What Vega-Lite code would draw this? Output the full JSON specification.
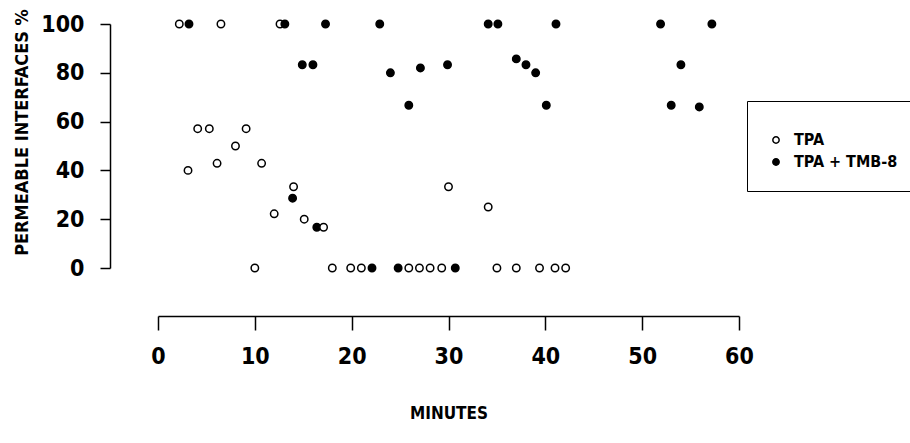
{
  "$schema": "https://vega.github.io/schema/vega-lite/v6.json",
  "autosize": "none",
  "width": 581,
  "height": 244,
  "padding": {"left": 158, "top": 24, "right": 171, "bottom": 175},
  "background": "white",
  "config": {
    "view": {"stroke": null},
    "font": "DejaVu Sans Condensed",
    "axis": {"grid": false, "domainColor": "black", "tickColor": "black", "labelColor": "black", "titleColor": "black", "domainWidth": 1.5, "tickWidth": 1.5, "labelFont": "DejaVu Sans Condensed", "titleFont": "DejaVu Sans Condensed", "labelFontWeight": "bold", "titleFontWeight": "bold"}
  },
  "data": {
    "values": [
      {"t": 2.2, "p": 100, "g": "TPA"},
      {"t": 6.5, "p": 100, "g": "TPA"},
      {"t": 12.6, "p": 100, "g": "TPA"},
      {"t": 3.1, "p": 40, "g": "TPA"},
      {"t": 4.1, "p": 57.1, "g": "TPA"},
      {"t": 5.3, "p": 57.1, "g": "TPA"},
      {"t": 6.1, "p": 42.9, "g": "TPA"},
      {"t": 8.0, "p": 50, "g": "TPA"},
      {"t": 9.1, "p": 57.1, "g": "TPA"},
      {"t": 10.7, "p": 42.9, "g": "TPA"},
      {"t": 10.0, "p": 0, "g": "TPA"},
      {"t": 12.0, "p": 22.2, "g": "TPA"},
      {"t": 14.0, "p": 33.3, "g": "TPA"},
      {"t": 15.1, "p": 20, "g": "TPA"},
      {"t": 18.0, "p": 0, "g": "TPA"},
      {"t": 19.9, "p": 0, "g": "TPA"},
      {"t": 21.0, "p": 0, "g": "TPA"},
      {"t": 25.9, "p": 0, "g": "TPA"},
      {"t": 27.0, "p": 0, "g": "TPA"},
      {"t": 28.1, "p": 0, "g": "TPA"},
      {"t": 29.3, "p": 0, "g": "TPA"},
      {"t": 30.0, "p": 33.3, "g": "TPA"},
      {"t": 34.1, "p": 25, "g": "TPA"},
      {"t": 35.0, "p": 0, "g": "TPA"},
      {"t": 37.0, "p": 0, "g": "TPA"},
      {"t": 39.4, "p": 0, "g": "TPA"},
      {"t": 41.0, "p": 0, "g": "TPA"},
      {"t": 42.1, "p": 0, "g": "TPA"},
      {"t": 3.2, "p": 100, "g": "TPA + TMB-8"},
      {"t": 13.1, "p": 100, "g": "TPA + TMB-8"},
      {"t": 17.3, "p": 100, "g": "TPA + TMB-8"},
      {"t": 22.9, "p": 100, "g": "TPA + TMB-8"},
      {"t": 34.1, "p": 100, "g": "TPA + TMB-8"},
      {"t": 35.1, "p": 100, "g": "TPA + TMB-8"},
      {"t": 41.1, "p": 100, "g": "TPA + TMB-8"},
      {"t": 51.9, "p": 100, "g": "TPA + TMB-8"},
      {"t": 57.2, "p": 100, "g": "TPA + TMB-8"},
      {"t": 14.9, "p": 83.3, "g": "TPA + TMB-8"},
      {"t": 16.0, "p": 83.3, "g": "TPA + TMB-8"},
      {"t": 24.0, "p": 80, "g": "TPA + TMB-8"},
      {"t": 25.9, "p": 66.7, "g": "TPA + TMB-8"},
      {"t": 27.1, "p": 82, "g": "TPA + TMB-8"},
      {"t": 29.9, "p": 83.3, "g": "TPA + TMB-8"},
      {"t": 13.9, "p": 28.6, "g": "TPA + TMB-8"},
      {"t": 16.4, "p": 16.7, "g": "TPA + TMB-8"},
      {"t": 22.1, "p": 0, "g": "TPA + TMB-8"},
      {"t": 24.8, "p": 0, "g": "TPA + TMB-8"},
      {"t": 30.7, "p": 0, "g": "TPA + TMB-8"},
      {"t": 37.0, "p": 85.7, "g": "TPA + TMB-8"},
      {"t": 38.0, "p": 83.3, "g": "TPA + TMB-8"},
      {"t": 39.0, "p": 80, "g": "TPA + TMB-8"},
      {"t": 40.1, "p": 66.7, "g": "TPA + TMB-8"},
      {"t": 54.0, "p": 83.3, "g": "TPA + TMB-8"},
      {"t": 53.0, "p": 66.7, "g": "TPA + TMB-8"},
      {"t": 55.9, "p": 66, "g": "TPA + TMB-8"},
      {"t": 17.1, "p": 16.7, "g": "TPA"}
    ]
  },
  "mark": {"type": "point", "filled": false, "stroke": "black", "strokeWidth": 1.5, "opacity": 1, "size": 55, "shape": "circle"},
  "encoding": {
    "x": {
      "field": "t", "type": "quantitative",
      "scale": {"domain": [0, 60], "nice": false, "zero": true},
      "axis": {"title": "MINUTES", "offset": 48, "values": [0, 10, 20, 30, 40, 50, 60], "tickSize": 14, "labelPadding": 15, "labelFontSize": 23, "titleFontSize": 17, "titleY": 97, "titleBaseline": "middle", "labelFlush": false}
    },
    "y": {
      "field": "p", "type": "quantitative",
      "scale": {"domain": [0, 100], "nice": false},
      "axis": {"title": "PERMEABLE INTERFACES %", "offset": 48, "values": [0, 20, 40, 60, 80, 100], "tickSize": 10, "labelPadding": 16, "labelFontSize": 23, "titleFontSize": 18, "titleX": -88, "titleY": 108, "titleAlign": "center", "titleBaseline": "middle", "titleAngle": -90}
    },
    "fill": {
      "field": "g", "type": "nominal",
      "scale": {"domain": ["TPA", "TPA + TMB-8"], "range": ["white", "black"]},
      "legend": {"title": " ", "titleFontSize": 2, "titlePadding": 8, "orient": "none", "legendX": 589, "legendY": 77, "strokeColor": "black", "padding": 21, "rowPadding": 6, "symbolSize": 40, "symbolStrokeColor": "black", "symbolStrokeWidth": 1.5, "symbolType": "circle", "labelFont": "DejaVu Sans Condensed", "labelFontWeight": "bold", "labelFontSize": 16, "labelColor": "black", "labelOffset": 10, "fillColor": "white"}
    }
  }
}
